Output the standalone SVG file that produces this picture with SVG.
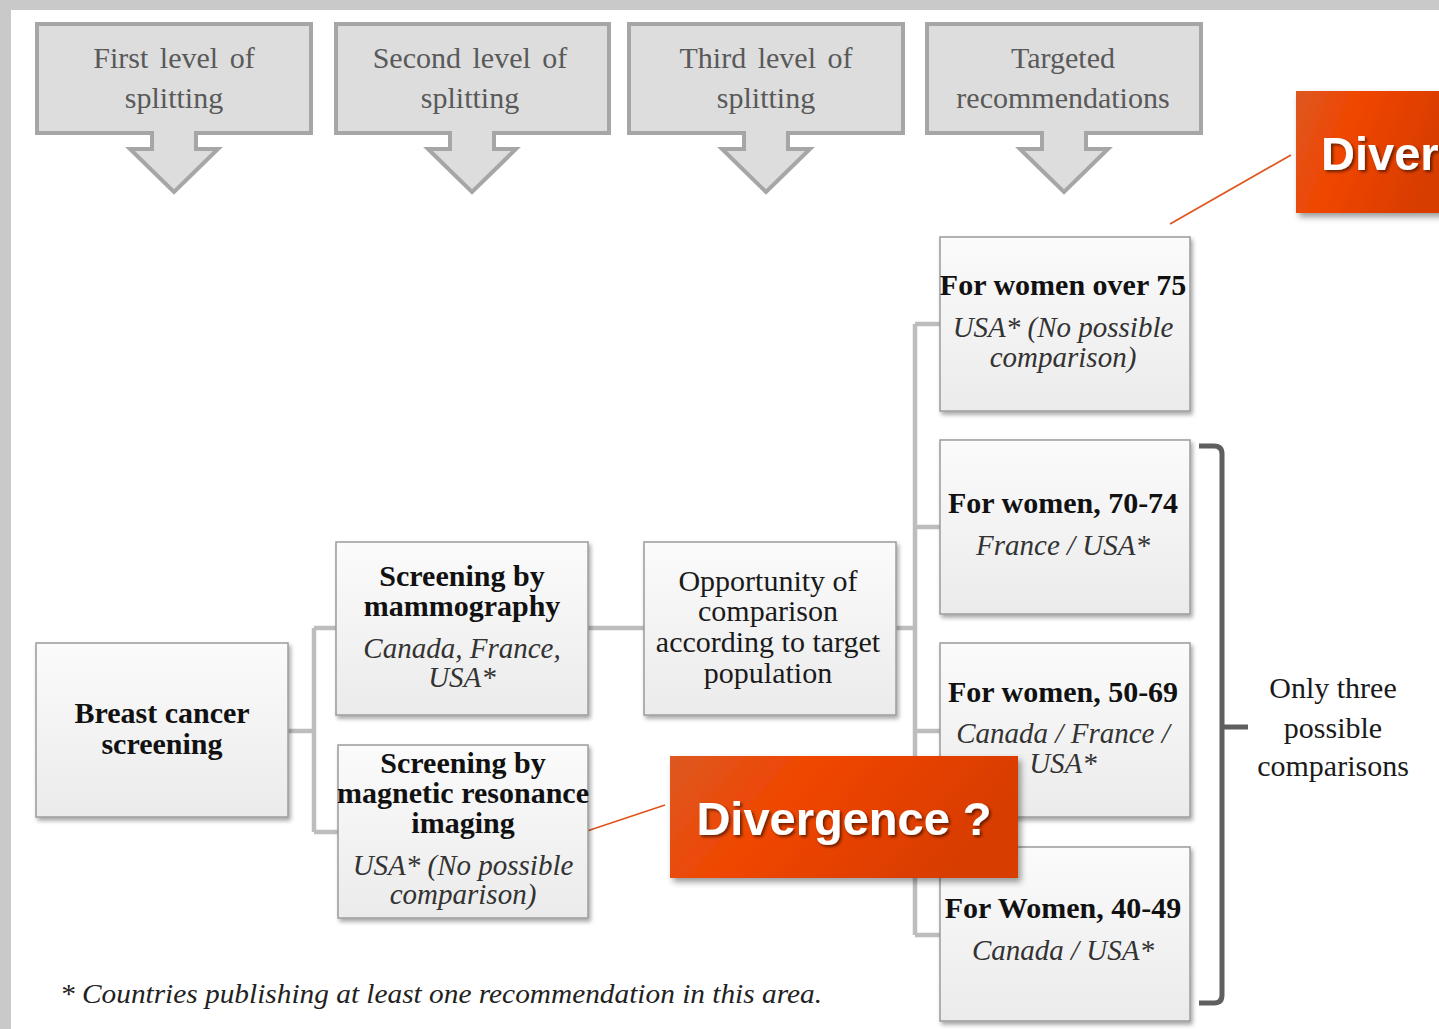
<svg xmlns="http://www.w3.org/2000/svg" width="1439" height="1029" viewBox="0 0 1439 1029">
<defs>
<linearGradient id="nodeFill" x1="0" y1="0" x2="0" y2="1">
<stop offset="0" stop-color="#fbfbfb"/>
<stop offset="1" stop-color="#ebebeb"/>
</linearGradient>
<linearGradient id="divFill" x1="0" y1="0" x2="1" y2="0.3">
<stop offset="0" stop-color="#dd5822"/>
<stop offset="0.4" stop-color="#f04600"/>
<stop offset="1" stop-color="#d83c00"/>
</linearGradient>
<filter id="shadow" x="-10%" y="-10%" width="125%" height="125%">
<feDropShadow dx="2" dy="3" stdDeviation="2" flood-color="#000" flood-opacity="0.35"/>
</filter>
<filter id="divShadow" x="-10%" y="-10%" width="125%" height="130%">
<feDropShadow dx="3" dy="4" stdDeviation="3" flood-color="#000" flood-opacity="0.4"/>
</filter>
<filter id="txtShadow" x="-5%" y="-20%" width="115%" height="150%">
<feDropShadow dx="2" dy="2" stdDeviation="1.5" flood-color="#000" flood-opacity="0.55"/>
</filter>
<style>
.hdr{fill:#dddddd;stroke:#a6a6a6;stroke-width:4;stroke-linejoin:miter}
.htx{font-family:"Liberation Serif",serif;font-size:30px;fill:#595959;text-anchor:middle;word-spacing:4px}
.box{fill:url(#nodeFill);stroke:#9c9c9c;stroke-width:1.5;filter:url(#shadow)}
.b{font-family:"Liberation Serif",serif;font-size:30px;font-weight:bold;fill:#111;text-anchor:middle}
.i{font-family:"Liberation Serif",serif;font-size:29px;font-style:italic;fill:#333;text-anchor:middle}
.r{font-family:"Liberation Serif",serif;font-size:30px;fill:#1a1a1a;text-anchor:middle}
.con{fill:none;stroke:#bdbdbd;stroke-width:4.5}
.div{fill:url(#divFill);filter:url(#divShadow)}
.dtx{font-family:"Liberation Sans",Arial,sans-serif;font-size:47px;font-weight:bold;fill:#fff;filter:url(#txtShadow)}
.ora{stroke:#e0561e;stroke-width:1.8;fill:none}
</style>
</defs>
<rect x="0" y="0" width="1439" height="1029" fill="#c9c9c9"/>
<rect x="11" y="10" width="1428" height="1019" fill="#ffffff"/>

<g id="headers">
<g id="hdr1">
<path class="hdr" d="M37,24 H311 V133 H196 V149 H218 L174,192 L130,149 H152 V133 H37 Z"/>
<text class="htx" x="174" y="68">First level of</text>
<text class="htx" x="174" y="108">splitting</text>
</g>
<g id="hdr2">
<path class="hdr" d="M336,24 H609 V133 H494 V149 H516 L472,192 L428,149 H450 V133 H336 Z"/>
<text class="htx" x="470" y="68">Second level of</text>
<text class="htx" x="470" y="108">splitting</text>
</g>
<g id="hdr3">
<path class="hdr" d="M629,24 H903 V133 H788 V149 H810 L766,192 L722,149 H744 V133 H629 Z"/>
<text class="htx" x="766" y="68">Third level of</text>
<text class="htx" x="766" y="108">splitting</text>
</g>
<g id="hdr4">
<path class="hdr" d="M927,24 H1201 V133 H1086 V149 H1108 L1064,192 L1020,149 H1042 V133 H927 Z"/>
<text class="htx" x="1063" y="68">Targeted</text>
<text class="htx" x="1063" y="108">recommendations</text>
</g>
</g>

<g id="connectors">
<path class="con" d="M288,731 H314 M314,628 V832 M314,628 H336 M314,832 H338"/>
<path class="con" d="M588,628 H644"/>
<path class="con" d="M896,628 H915 M915,324 V935 M915,324 H940 M915,527 H940 M915,731 H940 M915,935 H940"/>
<path class="ora" d="M1170,224 L1291,155"/>
<path class="ora" d="M584,832 L665,805"/>
<path d="M1199,446 H1214 Q1222,446 1222,454 V995 Q1222,1003 1214,1003 H1199 M1222,727 H1248" fill="none" stroke="#5f5f5f" stroke-width="5"/>
</g>

<g id="n-breast">
<rect class="box" x="36" y="643" width="252" height="174"/>
<text class="b" x="162" y="723">Breast cancer</text>
<text class="b" x="162" y="754">screening</text>
</g>
<g id="n-mammo">
<rect class="box" x="336" y="542" width="252" height="173"/>
<text class="b" x="462" y="586">Screening by</text>
<text class="b" x="462" y="616">mammography</text>
<text class="i" x="462" y="658">Canada, France,</text>
<text class="i" x="462" y="687">USA*</text>
</g>
<g id="n-mri">
<rect class="box" x="338" y="745" width="250" height="173"/>
<text class="b" x="463" y="773">Screening by</text>
<text class="b" x="463" y="803">magnetic resonance</text>
<text class="b" x="463" y="833">imaging</text>
<text class="i" x="463" y="875">USA* (No possible</text>
<text class="i" x="463" y="904">comparison)</text>
</g>
<g id="n-opp">
<rect class="box" x="644" y="542" width="252" height="173"/>
<text class="r" x="768" y="591">Opportunity of</text>
<text class="r" x="768" y="621">comparison</text>
<text class="r" x="768" y="652">according to target</text>
<text class="r" x="768" y="683">population</text>
</g>
<g id="n-75">
<rect class="box" x="940" y="237" width="250" height="174"/>
<text class="b" x="1063" y="295">For women over 75</text>
<text class="i" x="1063" y="337">USA* (No possible</text>
<text class="i" x="1063" y="367">comparison)</text>
</g>
<g id="n-7074">
<rect class="box" x="940" y="440" width="250" height="174"/>
<text class="b" x="1063" y="513">For women, 70-74</text>
<text class="i" x="1063" y="555">France / USA*</text>
</g>
<g id="n-5069">
<rect class="box" x="940" y="643" width="250" height="174"/>
<text class="b" x="1063" y="702">For women, 50-69</text>
<text class="i" x="1063" y="743">Canada / France /</text>
<text class="i" x="1063" y="773">USA*</text>
</g>
<g id="n-4049">
<rect class="box" x="940" y="847" width="250" height="174"/>
<text class="b" x="1063" y="918">For Women, 40-49</text>
<text class="i" x="1063" y="960">Canada / USA*</text>
</g>

<g id="bracket-label">
<text class="r" x="1333" y="698">Only three</text>
<text class="r" x="1333" y="738">possible</text>
<text class="r" x="1333" y="776">comparisons</text>
</g>

<g id="div-top">
<rect class="div" x="1296" y="91" width="150" height="122"/>
<text class="dtx" x="1321" y="170">Diver</text>
</g>
<g id="div-bottom">
<rect class="div" x="670" y="756" width="348" height="122"/>
<text class="dtx" x="844" y="835" text-anchor="middle">Divergence ?</text>
</g>

<text x="60" y="1003" font-family="Liberation Serif, serif" font-size="28" font-style="italic" fill="#222" textLength="762" lengthAdjust="spacingAndGlyphs">* Countries publishing at least one recommendation in this area.</text>
</svg>
